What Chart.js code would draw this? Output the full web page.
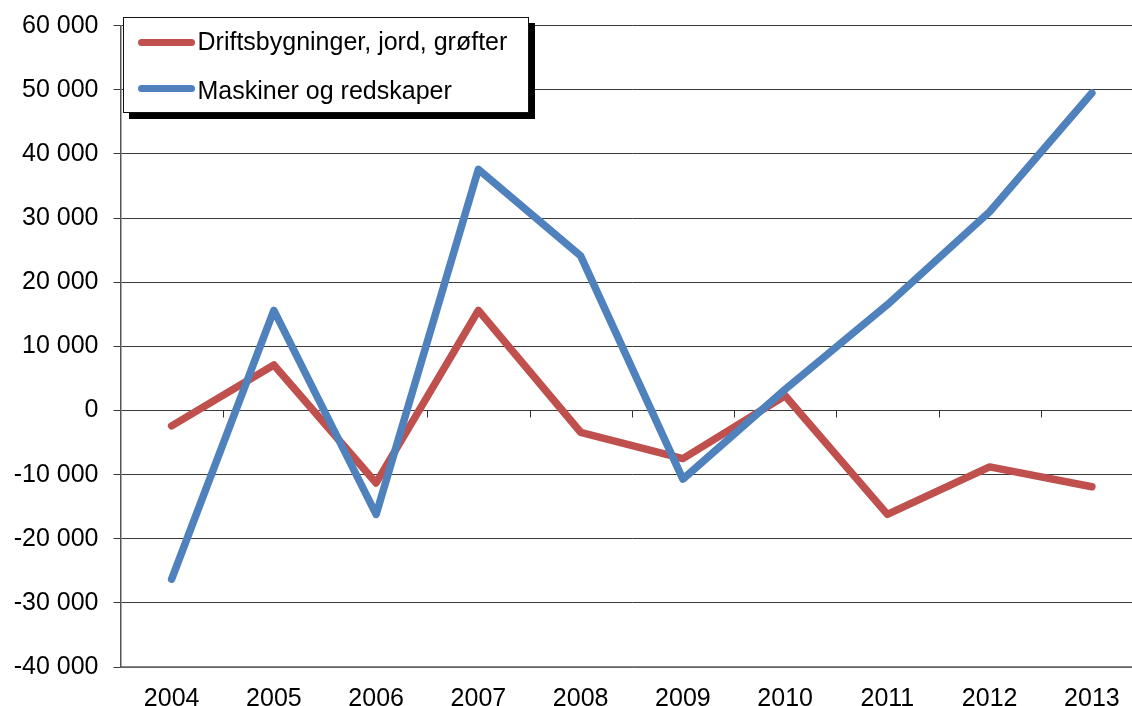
<!DOCTYPE html>
<html>
<head>
<meta charset="utf-8">
<script src="https://cdn.jsdelivr.net/npm/chart.js@4"></script>
<style>
  html, body { margin: 0; padding: 0; overflow: hidden; background: #fff; }
  #wrap { position: relative; width: 1143px; height: 713px; }
  #legend {
    position: absolute; left: 122.5px; top: 16.7px; width: 406px; height: 96px;
    box-sizing: border-box; border: 1px solid #111; background: #fff;
    box-shadow: 6px 6px 0 #000;
    font-family: "Liberation Sans", Arial, sans-serif; font-size: 25px; color: #000;
  }
  #legend .sample { position: absolute; left: 14px; width: 57px; height: 7px; border-radius: 3.5px; }
  #legend .txt { position: absolute; left: 74px; line-height: 25px; white-space: nowrap; }
</style>
</head>
<body>
<div id="wrap">
  <canvas id="chart"></canvas>
  <div id="legend"></div>
</div>
<script>
const years = ['2004', '2005', '2006', '2007', '2008', '2009', '2010', '2011', '2012', '2013'];
const driftsbygninger = [-2400, 7100, -11300, 15600, -3400, -7500, 2300, -16200, -8800, -11900];
const maskiner = [-26300, 15600, -16200, 37600, 24100, -10700, 3300, 16500, 31000, 49500];
const yTicks = [-40000, -30000, -20000, -10000, 0, 10000, 20000, 30000, 40000, 50000, 60000];

const seriesNames = ['Driftsbygninger, jord, grøfter', 'Maskiner og redskaper'];
const seriesColors = ['#C0504D', '#4F81BD'];

function fmt(v) {
    const s = String(Math.abs(v)).replace(/\B(?=(\d{3})+(?!\d))/g, ' ');
    return (v < 0 ? '-' : '') + s;
}

// small tick marks on the zero line between categories (Excel style axis crossing)
const zeroTicks = {
    id: 'zeroTicks',
    beforeDatasetsDraw(chart) {
        const x = chart.scales.x, y = chart.scales.y, ctx = chart.ctx;
        const y0 = y.getPixelForValue(0);
        const step = x.getPixelForTick(1) - x.getPixelForTick(0);
        ctx.save();
        ctx.strokeStyle = '#333';
        ctx.lineWidth = 1;
        for (let i = 1; i < years.length; i++) {
            const px = Math.round(x.getPixelForTick(i) - step / 2) + 0.5;
            ctx.beginPath();
            ctx.moveTo(px, y0);
            ctx.lineTo(px, y0 + 7);
            ctx.stroke();
        }
        ctx.restore();
    }
};

const ctx = document.getElementById('chart').getContext('2d');
new Chart(ctx, {
    type: 'line',
    data: {
        labels: years,
        datasets: [{
            label: seriesNames[0],
            data: driftsbygninger,
            borderColor: seriesColors[0],
            backgroundColor: seriesColors[0],
            order: 1
        }, {
            label: seriesNames[1],
            data: maskiner,
            borderColor: seriesColors[1],
            backgroundColor: seriesColors[1],
            order: 0
        }]
    },
    options: {
        responsive: true,
        maintainAspectRatio: false,
        animation: false,
        events: [],
        layout: { padding: { left: 13.7, top: 25.7, right: 0, bottom: 0 } },
        elements: {
            line: { borderWidth: 7.5, tension: 0, borderCapStyle: 'round', borderJoinStyle: 'round', fill: false },
            point: { radius: 0, hoverRadius: 0 }
        },
        plugins: { legend: { display: false }, tooltip: { enabled: false } },
        scales: {
            x: {
                offset: true,
                grid: { display: false, drawTicks: false },
                border: { display: true, color: '#888', width: 1.5 },
                afterFit(scale) { scale.height = 46; scale.paddingLeft = 0; scale.paddingRight = 0; },
                ticks: {
                    padding: 17,
                    color: '#000',
                    font: { family: '"Liberation Sans", Arial, sans-serif', size: 25 }
                }
            },
            y: {
                min: -40000,
                max: 60000,
                afterBuildTicks(scale) { scale.ticks = yTicks.map(v => ({ value: v })); },
                afterFit(scale) { scale.width = 106.8; scale.paddingTop = 0; scale.paddingBottom = 0; },
                grid: { color: '#3a3a3a', lineWidth: 1, tickLength: 7 },
                border: { display: true, color: '#555', width: 1.5 },
                ticks: {
                    padding: 15,
                    color: '#000',
                    font: { family: '"Liberation Sans", Arial, sans-serif', size: 25 },
                    callback: v => fmt(v)
                }
            }
        }
    },
    plugins: [zeroTicks]
});

// legend box with shadow, built from the series arrays
const legend = document.getElementById('legend');
const rowsTop = [21.5, 67.5];
const textTop = [11.4, 60.4];
seriesNames.forEach((name, i) => {
    const s = document.createElement('div');
    s.className = 'sample';
    s.style.top = rowsTop[i] + 'px';
    s.style.background = seriesColors[i];
    legend.appendChild(s);
    const t = document.createElement('div');
    t.className = 'txt';
    t.style.top = textTop[i] + 'px';
    t.textContent = name;
    legend.appendChild(t);
});
</script>
</body>
</html>
